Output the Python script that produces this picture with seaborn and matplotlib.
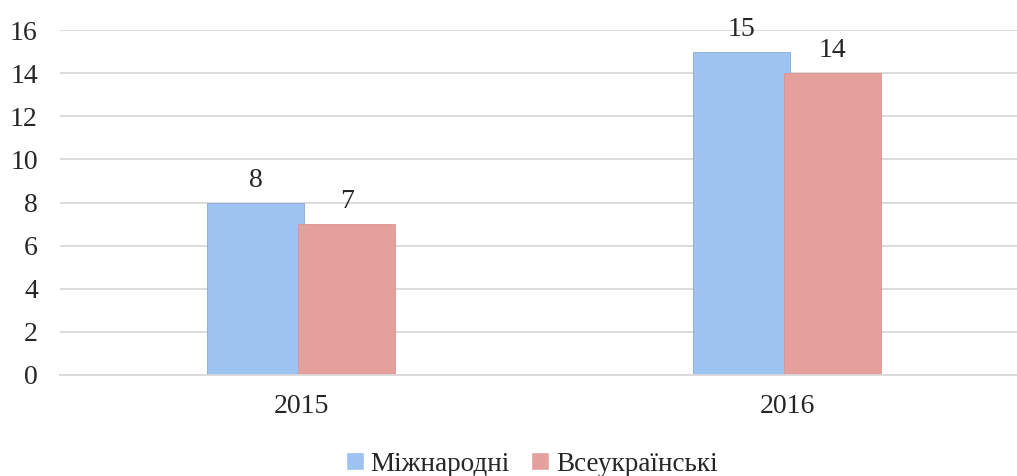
import seaborn as sns
import matplotlib.pyplot as plt
import pandas as pd

# Chart data
years = ["2015", "2016"]
series = ["Міжнародні", "Всеукраїнські"]
intl = [8, 15]
national = [7, 14]
colors = ["#9DC3F1", "#E5A09E"]

df = pd.DataFrame({
    "year": years * 2,
    "kind": [series[0]] * 2 + [series[1]] * 2,
    "value": intl + national,
})

sns.set_style("white")
plt.rcParams["font.family"] = ["Liberation Serif", "DejaVu Serif"]

fig = plt.figure(figsize=(10.17, 4.76), dpi=100)
ax = fig.add_axes([60 / 1017, 1 - 375 / 476, (1017 - 60) / 1017, (375 - 30) / 476])

sns.barplot(data=df, x="year", y="value", hue="kind", palette=colors,
            width=0.4, saturation=1, ax=ax, legend=True)

# slight overlap between the two bars of a group, as in the original
for i, container in enumerate(ax.containers):
    shift = 0.006 if i == 0 else -0.006
    for p in container:
        p.set_x(p.get_x() + shift)
        p.set_edgecolor("#8aa9d6" if i == 0 else "#d99592")
        p.set_linewidth(0.6)
    ax.bar_label(container, fontsize=20, padding=7)

ax.set_ylim(0, 16)
ax.set_yticks(range(0, 17, 2))
ax.set_xlim(-0.496, 1.473)
ax.grid(axis="y", color="#d9d9d9", linewidth=1.3)
ax.set_axisbelow(True)
for s in ["top", "right", "left"]:
    ax.spines[s].set_visible(False)
ax.spines["bottom"].set_color("#d9d9d9")
ax.spines["bottom"].set_linewidth(1.3)
ax.tick_params(axis="both", labelsize=20, length=0)
ax.tick_params(axis="y", pad=16)
ax.tick_params(axis="x", pad=14)
ax.set_xlabel("")
ax.set_ylabel("")

ax.legend(loc="upper center", bbox_to_anchor=(0.5 - 0.007, -0.175), ncol=2,
          frameon=False, fontsize=19.5, handlelength=0.65, handleheight=0.65,
          handletextpad=0.25, columnspacing=0.8, borderaxespad=0.2)

fig.savefig("out.png", dpi=100)
